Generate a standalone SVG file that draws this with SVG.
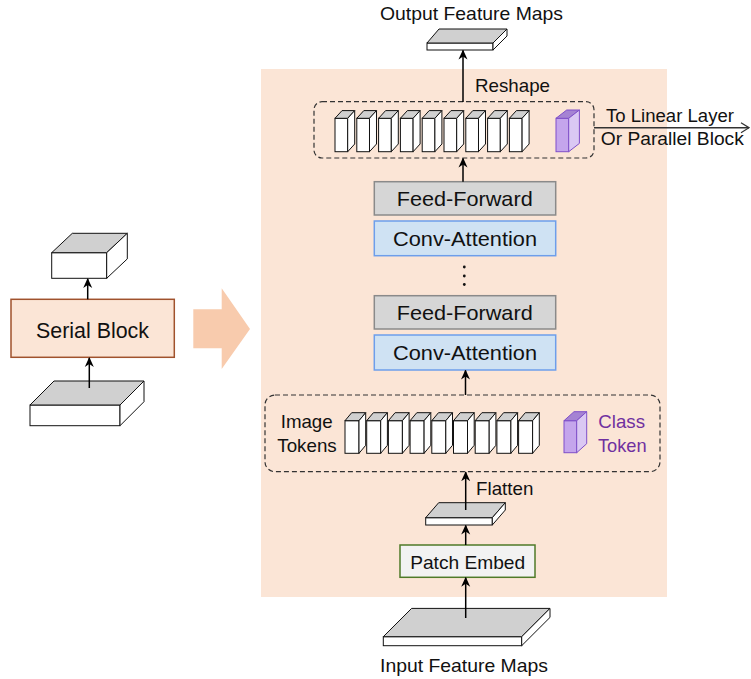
<svg xmlns="http://www.w3.org/2000/svg" xmlns:xlink="http://www.w3.org/1999/xlink" width="751" height="679" viewBox="0 0 751 679">
<style>
text{font-family:"Liberation Sans",Arial,sans-serif;fill:#111}
.t18{font-size:18.5px}
.t20{font-size:21px}
.grey{fill:#d0d0d0;stroke:#111;stroke-width:1}
.white{fill:#fff;stroke:#111;stroke-width:1}
.conn{stroke:#000;stroke-width:1.5;fill:none}
.dash{fill:none;stroke:#333;stroke-width:1.2;stroke-dasharray:5,3}
.ff{fill:#d6d6d6;stroke:#8a8a8a;stroke-width:1.5}
.ca{fill:#cfe2f3;stroke:#6d9eeb;stroke-width:1.5}
.pf{fill:#c4a5ec;stroke:#7f4fc9;stroke-width:1}
.pt{fill:#a583d3;stroke:#7f4fc9;stroke-width:1}
.ps{fill:#dac8f3;stroke:#7f4fc9;stroke-width:1}
</style>
<defs>
<marker id="ah" markerWidth="10" markerHeight="10" viewBox="0 0 10 10" refX="9" refY="5" orient="auto" markerUnits="userSpaceOnUse">
<path d="M0,0.5 L10,5 L0,9.5 L3,5 Z" fill="#000"/>
</marker>
<marker id="open" markerWidth="10" markerHeight="12" viewBox="0 0 10 12" refX="9" refY="6" orient="auto" markerUnits="userSpaceOnUse">
<path d="M1,1 L9,6 L1,11" fill="none" stroke="#333" stroke-width="1.2"/>
</marker>
<g id="tokA">
<rect class="white" x="0" y="0" width="12.7" height="33.4"/>
<polygon class="grey" points="0,0 7,-7.7 19.7,-7.7 12.7,0"/>
<polygon class="white" points="12.7,0 19.7,-7.7 19.7,25.7 12.7,33.4"/>
</g>
<g id="tokB">
<rect class="white" x="0" y="0" width="14" height="32.6"/>
<polygon class="grey" points="0,0 6.7,-8 20.7,-8 14,0"/>
<polygon class="white" points="14,0 20.7,-8 20.7,24.6 14,32.6"/>
</g>
</defs>

<rect id="bg" x="261" y="69" width="406" height="528" fill="#fbe5d6"/>

<g id="left-output">
<rect class="white" x="51.7" y="252.7" width="55" height="25.6"/>
<polygon class="grey" points="51.7,252.7 72.3,233.3 127.3,233.3 106.7,252.7"/>
<polygon class="white" points="106.7,252.7 127.3,233.3 127.3,258.9 106.7,278.3"/>
</g>
<g id="serial-block">
<rect x="11" y="299.3" width="163.3" height="58" fill="#fbe5d6" stroke="#a0522d" stroke-width="1.5"/>
<text x="92.5" y="337.5" text-anchor="middle" style="font-size:22px" textLength="113" lengthAdjust="spacingAndGlyphs">Serial Block</text>
</g>
<g id="left-input">
<rect class="white" x="30" y="405" width="90" height="20.7"/>
<polygon class="grey" points="30,405 54,381 144,381 120,405"/>
<polygon class="white" points="120,405 144,381 144,401.7 120,425.7"/>
</g>
<g id="big-arrow">
<polygon points="193.3,309.3 221.7,309.3 221.7,288.3 250,329 221.7,369 221.7,348.3 193.3,348.3" fill="#f8cbad"/>
</g>

<g id="output-maps">
<rect class="white" x="427" y="43" width="66" height="7"/>
<polygon class="grey" points="427,43 439,29 507,29 493,43"/>
<polygon class="white" points="493,43 507,29 507,36 493,50"/>
<text class="t18" x="471.5" y="19.5" text-anchor="middle" textLength="183" lengthAdjust="spacingAndGlyphs">Output Feature Maps</text>
</g>

<g id="top-tokens">
<rect class="dash" x="314" y="101.7" width="280" height="56.3" rx="8"/>
<use href="#tokA" x="335" y="118.3"/>
<use href="#tokA" x="356.8" y="118.3"/>
<use href="#tokA" x="378.6" y="118.3"/>
<use href="#tokA" x="400.4" y="118.3"/>
<use href="#tokA" x="422.2" y="118.3"/>
<use href="#tokA" x="444" y="118.3"/>
<use href="#tokA" x="465.8" y="118.3"/>
<use href="#tokA" x="487.6" y="118.3"/>
<use href="#tokA" x="509.4" y="118.3"/>
<rect class="pf" x="556" y="118.3" width="12.7" height="33.4"/>
<polygon class="pt" points="556,118.3 566.7,110 579.4,110 568.7,118.3"/>
<polygon class="ps" points="568.7,118.3 579.4,110 579.4,143.4 568.7,151.7"/>
</g>

<g id="ff1">
<rect class="ff" x="374.3" y="181.7" width="181.4" height="33.3"/>
<text class="t20" x="464.7" y="206" text-anchor="middle" textLength="136" lengthAdjust="spacingAndGlyphs">Feed-Forward</text>
</g>
<g id="ca1">
<rect class="ca" x="374.3" y="221" width="181.4" height="34.7"/>
<text class="t20" x="465" y="246" text-anchor="middle" textLength="144" lengthAdjust="spacingAndGlyphs">Conv-Attention</text>
</g>
<g id="dots">
<circle cx="464.3" cy="267" r="1.4" fill="#111"/>
<circle cx="464.3" cy="276" r="1.4" fill="#111"/>
<circle cx="464.3" cy="284.5" r="1.4" fill="#111"/>
</g>
<g id="ff2">
<rect class="ff" x="374.3" y="295.7" width="181.4" height="33.3"/>
<text class="t20" x="464.7" y="320" text-anchor="middle" textLength="136" lengthAdjust="spacingAndGlyphs">Feed-Forward</text>
</g>
<g id="ca2">
<rect class="ca" x="374.3" y="335" width="181.4" height="35"/>
<text class="t20" x="465" y="360" text-anchor="middle" textLength="144" lengthAdjust="spacingAndGlyphs">Conv-Attention</text>
</g>

<g id="bottom-tokens">
<rect class="dash" x="265" y="395" width="395" height="76.7" rx="10"/>
<text class="t18" x="306.7" y="428.3" text-anchor="middle" textLength="52" lengthAdjust="spacingAndGlyphs">Image</text>
<text class="t18" x="307" y="452.3" text-anchor="middle" textLength="59.4" lengthAdjust="spacingAndGlyphs">Tokens</text>
<use href="#tokB" x="345" y="420.7"/>
<use href="#tokB" x="366.7" y="420.7"/>
<use href="#tokB" x="388.4" y="420.7"/>
<use href="#tokB" x="410.1" y="420.7"/>
<use href="#tokB" x="431.8" y="420.7"/>
<use href="#tokB" x="453.5" y="420.7"/>
<use href="#tokB" x="475.2" y="420.7"/>
<use href="#tokB" x="496.9" y="420.7"/>
<use href="#tokB" x="518.6" y="420.7"/>
<rect class="pf" x="564" y="420.7" width="12.7" height="32"/>
<polygon class="pt" points="564,420.7 574,411.7 586.7,411.7 576.7,420.7"/>
<polygon class="ps" points="576.7,420.7 586.7,411.7 586.7,443.7 576.7,452.7"/>
<text class="t18" x="621.7" y="428.3" text-anchor="middle" style="fill:#7030a0" textLength="46.7" lengthAdjust="spacingAndGlyphs">Class</text>
<text class="t18" x="622.3" y="452.3" text-anchor="middle" style="fill:#7030a0" textLength="48.7" lengthAdjust="spacingAndGlyphs">Token</text>
</g>

<g id="flatten-slab">
<rect class="white" x="425.7" y="517.7" width="66.6" height="7.3"/>
<polygon class="grey" points="425.7,517.7 438.7,502.7 505.3,502.7 492.3,517.7"/>
<polygon class="white" points="492.3,517.7 505.3,502.7 505.3,510 492.3,525"/>
</g>
<g id="patch-embed">
<rect x="400" y="545" width="135" height="32.3" fill="#f2f2f2" stroke="#4f7a28" stroke-width="1.5"/>
<text class="t18" x="467.7" y="569.3" text-anchor="middle" textLength="115" lengthAdjust="spacingAndGlyphs">Patch Embed</text>
</g>
<g id="input-maps">
<rect class="white" x="383.3" y="636.7" width="138.4" height="9"/>
<polygon class="grey" points="383.3,636.7 411.6,608.4 550,608.4 521.7,636.7"/>
<polygon class="white" points="521.7,636.7 550,608.4 550,617.4 521.7,645.7"/>
<text class="t18" x="464" y="671.7" text-anchor="middle" textLength="168" lengthAdjust="spacingAndGlyphs">Input Feature Maps</text>
</g>

<g id="connectors">
<line class="conn" x1="87.7" y1="299.3" x2="87.7" y2="279" marker-end="url(#ah)"/>
<line class="conn" x1="89.3" y1="388" x2="89.3" y2="358" marker-end="url(#ah)"/>
<line class="conn" x1="463" y1="102" x2="463" y2="50.5" marker-end="url(#ah)"/>
<line class="conn" x1="463" y1="181.7" x2="463" y2="158.5" marker-end="url(#ah)"/>
<line class="conn" x1="465.5" y1="395" x2="465.5" y2="370.5" marker-end="url(#ah)"/>
<line class="conn" x1="465.7" y1="510" x2="465.7" y2="472.2" marker-end="url(#ah)"/>
<line class="conn" x1="465.7" y1="545" x2="465.7" y2="525.5" marker-end="url(#ah)"/>
<line class="conn" x1="465.7" y1="618" x2="465.7" y2="577.8" marker-end="url(#ah)"/>
<line x1="594" y1="127.7" x2="749" y2="127.7" stroke="#333" stroke-width="1.5" marker-end="url(#open)"/>
<text class="t18" x="512.5" y="91.7" text-anchor="middle" textLength="75" lengthAdjust="spacingAndGlyphs">Reshape</text>
<text class="t18" x="504.7" y="495" text-anchor="middle" textLength="57.3" lengthAdjust="spacingAndGlyphs">Flatten</text>
<text x="670" y="122" text-anchor="middle" style="font-size:17.5px" textLength="128" lengthAdjust="spacingAndGlyphs">To Linear Layer</text>
<text x="672.3" y="145" text-anchor="middle" style="font-size:17.5px" textLength="143" lengthAdjust="spacingAndGlyphs">Or Parallel Block</text>
</g>
</svg>
